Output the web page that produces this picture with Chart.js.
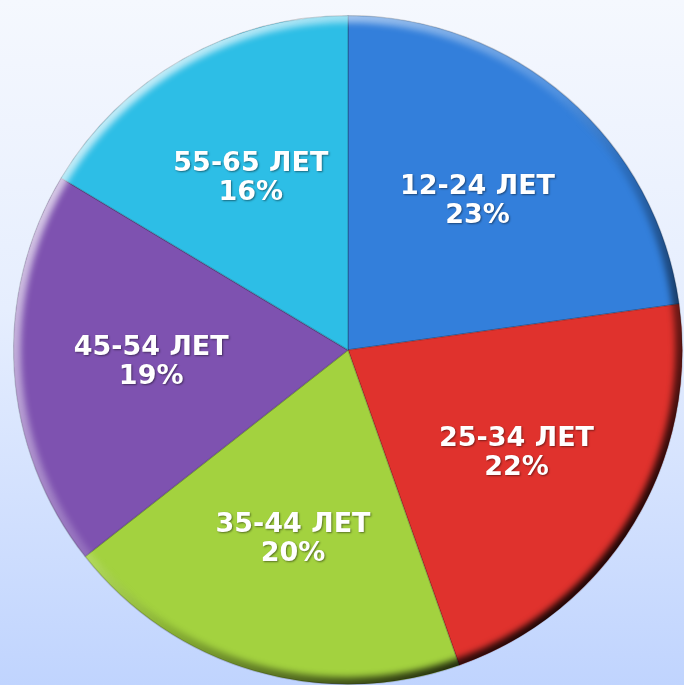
<!DOCTYPE html>
<html>
<head>
<meta charset="utf-8">
<script src="https://cdn.jsdelivr.net/npm/chart.js@4/dist/chart.umd.min.js"></script>
<style>
  html, body { margin: 0; padding: 0; }
  body {
    width: 684px; height: 685px; overflow: hidden;
    background: linear-gradient(to bottom, #f5f8fe 0%, #e6eefe 45%, #c0d4fe 100%);
  }
  #wrap { width: 684px; height: 685px; position: relative; }
</style>
</head>
<body>
<div id="wrap"><canvas id="ageChart"></canvas></div>
<script>
const ageGroups = ['12-24 ЛЕТ', '25-34 ЛЕТ', '35-44 ЛЕТ', '45-54 ЛЕТ', '55-65 ЛЕТ'];
const shares = [22.8, 21.8, 19.8, 19.2, 16.4];
const sliceColors = ['#337fdb', '#e0322d', '#a3d23f', '#7e52b0', '#2dbee6'];

// bevel: light rim top-left, dark rim bottom-right
const bevel = {
    id: 'bevel',
    afterDatasetsDraw(chart) {
        const arc = chart.getDatasetMeta(0).data[0];
        const { x, y, outerRadius } = arc.getProps(['x', 'y', 'outerRadius'], true);
        const ctx = chart.ctx;
        ctx.save();
        ctx.beginPath();
        ctx.arc(x, y, outerRadius, 0, Math.PI * 2);
        ctx.clip();
        const g = ctx.createLinearGradient(x - outerRadius * 0.7, y - outerRadius * 0.7, x + outerRadius * 0.7, y + outerRadius * 0.7);
        g.addColorStop(0, 'rgba(255,255,255,0.7)');
        g.addColorStop(0.45, 'rgba(255,255,255,0.15)');
        g.addColorStop(0.6, 'rgba(0,0,0,0.15)');
        g.addColorStop(1, 'rgba(0,0,0,0.85)');
        ctx.filter = 'blur(3px)';
        ctx.lineWidth = 18;
        ctx.strokeStyle = g;
        ctx.beginPath();
        ctx.arc(x, y, outerRadius + 2, 0, Math.PI * 2);
        ctx.stroke();
        ctx.restore();
    }
};

const sliceLabels = {
    id: 'sliceLabels',
    afterDraw(chart) {
        const ctx = chart.ctx;
        const meta = chart.getDatasetMeta(0);
        ctx.save();
        ctx.font = 'bold 27px "DejaVu Sans", sans-serif';
        ctx.textAlign = 'center';
        ctx.textBaseline = 'middle';
        ctx.fillStyle = '#ffffff';
        ctx.shadowColor = 'rgba(0,0,0,0.45)';
        ctx.shadowBlur = 2;
        ctx.shadowOffsetX = 1;
        ctx.shadowOffsetY = 1;
        meta.data.forEach((arc, i) => {
            const p = arc.getProps(['x', 'y', 'startAngle', 'endAngle', 'outerRadius'], true);
            const mid = (p.startAngle + p.endAngle) / 2;
            const r = p.outerRadius * 0.59;
            const lx = p.x + Math.cos(mid) * r;
            const ly = p.y + Math.sin(mid) * r;
            ctx.fillText(ageGroups[i], lx, ly - 14);
            ctx.fillText(Math.round(shares[i]) + '%', lx, ly + 15);
        });
        ctx.restore();
    }
};

const ctx = document.getElementById('ageChart').getContext('2d');
new Chart(ctx, {
    type: 'pie',
    data: {
        labels: ageGroups,
        datasets: [{
            data: shares,
            backgroundColor: sliceColors,
            borderColor: 'rgba(0,0,0,0.18)',
            borderWidth: 1.5
        }]
    },
    options: {
        responsive: true,
        maintainAspectRatio: false,
        animation: false,
        layout: { padding: { left: 12, top: 15, right: 0, bottom: 0 } },
        plugins: {
            legend: { display: false },
            tooltip: { enabled: false }
        }
    },
    plugins: [bevel, sliceLabels]
});
</script>
</body>
</html>
